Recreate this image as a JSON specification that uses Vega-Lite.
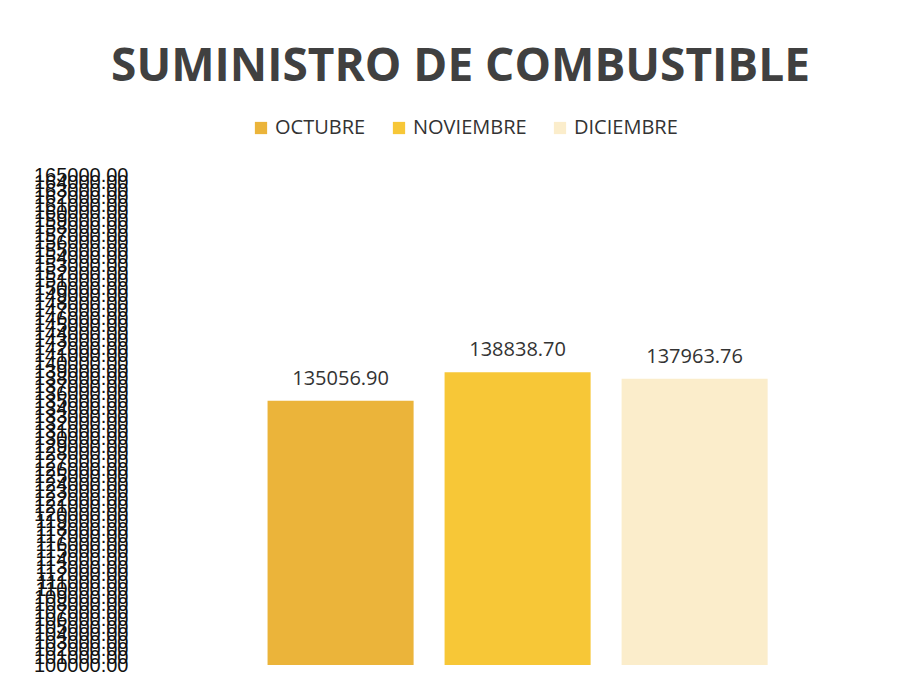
{
  "$schema": "https://vega.github.io/schema/vega-lite/v6.json",
  "width": 755,
  "height": 490,
  "autosize": {"type": "none"},
  "padding": {"left": 135, "top": 175, "right": 10, "bottom": 22},
  "background": "white",
  "title": {
    "text": "SUMINISTRO DE COMBUSTIBLE",
    "font": "Open Sans",
    "fontSize": 46,
    "fontWeight": "bold",
    "color": "#404040",
    "anchor": "middle",
    "offset": 27,
    "dx": -52
  },
  "data": {
    "values": [
      {"mes": "OCTUBRE", "valor": 135056.90},
      {"mes": "NOVIEMBRE", "valor": 138838.70},
      {"mes": "DICIEMBRE", "valor": 137963.76}
    ]
  },
  "config": {"view": {"stroke": null}},
  "encoding": {
    "x": {
      "field": "mes",
      "type": "nominal",
      "sort": ["OCTUBRE", "NOVIEMBRE", "DICIEMBRE"],
      "scale": {"paddingInner": 0.175, "paddingOuter": 0.72, "align": 0.52},
      "axis": null
    },
    "y": {
      "field": "valor",
      "type": "quantitative",
      "scale": {"domain": [100000, 165000], "zero": false, "clamp": true},
      "axis": {
        "title": null,
        "format": ".2f",
        "values": [100000,101000,102000,103000,104000,105000,106000,107000,108000,109000,110000,111000,112000,113000,114000,115000,116000,117000,118000,119000,120000,121000,122000,123000,124000,125000,126000,127000,128000,129000,130000,131000,132000,133000,134000,135000,136000,137000,138000,139000,140000,141000,142000,143000,144000,145000,146000,147000,148000,149000,150000,151000,152000,153000,154000,155000,156000,157000,158000,159000,160000,161000,162000,163000,164000,165000],
        "labelOverlap": false,
        "labelFont": "Liberation Sans",
        "labelFontSize": 20,
        "labelColor": "#111111",
        "labelPadding": 7,
        "ticks": false,
        "domain": false,
        "grid": false
      }
    }
  },
  "layer": [
    {
      "mark": {"type": "bar"},
      "encoding": {
        "color": {
          "field": "mes",
          "type": "nominal",
          "sort": ["OCTUBRE", "NOVIEMBRE", "DICIEMBRE"],
          "scale": {"domain": ["OCTUBRE", "NOVIEMBRE", "DICIEMBRE"], "range": ["#EBB43A", "#F7C737", "#FBEDCB"]},
          "legend": {
            "title": null,
            "orient": "none",
            "legendX": 116,
            "legendY": -57,
            "direction": "horizontal",
            "symbolType": "square",
            "symbolSize": 150,
            "symbolStrokeWidth": 0,
            "labelFont": "Open Sans",
            "labelFontSize": 20,
            "labelColor": "#333333",
            "labelOffset": 4,
            "columnPadding": 23
          }
        }
      }
    },
    {
      "mark": {"type": "text", "baseline": "bottom", "dy": -12, "font": "Open Sans", "fontSize": 20, "color": "#333333"},
      "encoding": {
        "text": {"field": "valor", "type": "quantitative", "format": ".2f"}
      }
    }
  ]
}
